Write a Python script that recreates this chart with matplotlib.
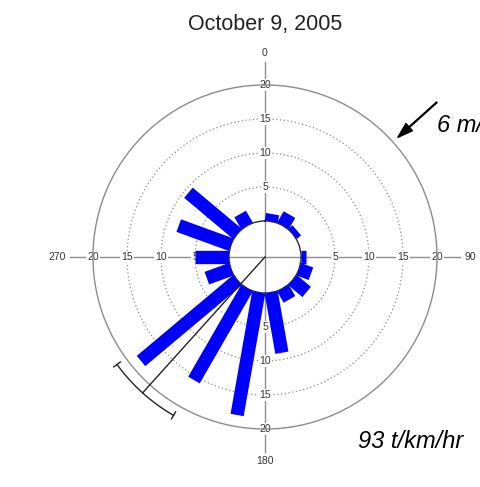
import numpy as np
import matplotlib.pyplot as plt

plt.rcParams['font.family'] = ['Liberation Sans', 'DejaVu Sans']

# ---- data -------------------------------------------------------------
title = "October 9, 2005"
bin_centers = np.arange(10, 360, 20)            # direction bins (deg, clockwise from N)
flux = [1.1, 1.9, 0.8, 0.0, 0.8, 1.9, 2.7, 1.9, 9.0,
        18.3, 15.6, 18.5, 3.8, 5.0, 8.2, 9.4, 2.0, 0.0]
rings = [5, 10, 15, 20]
compass = [0, 90, 180, 270]
mean_dir = 222          # resultant transport direction (deg)
dir_spread = 12         # +/- uncertainty of the direction (deg)
mean_radius = 21.6
wind_dir = 48           # wind direction (deg)
wind_label = "6 m/s"
total_label = "93 t/km/hr"

R_MAX = 20
R_ORIGIN = -5.3
AXIS_END = 23.4

fig = plt.figure(figsize=(4.81, 4.87), dpi=100)
ax = fig.add_axes([0.1933, 0.1191, 0.7152, 0.7064], projection='polar')
ax.set_theta_zero_location('N')
ax.set_theta_direction(-1)
ax.set_rlim(0, R_MAX)
ax.set_rorigin(R_ORIGIN)
ax.set_xticks([])
ax.set_yticks(rings[:-1])
ax.set_yticklabels([])
ax.tick_params(axis='y', length=0)
ax.yaxis.grid(True, linestyle=(0, (1, 2)), color='#8a8a8a', lw=0.9)
ax.spines['polar'].set_color('#8c8c8c')
ax.spines['polar'].set_linewidth(1.0)
ax.spines['inner'].set_color('#2a2a2a')
ax.spines['inner'].set_linewidth(1.0)

# crosshair through the centre
for ang in compass:
    t = np.radians(ang)
    ax.plot([t, t], [R_ORIGIN, AXIS_END], color='#8c8c8c', lw=1.0,
            clip_on=False, zorder=1)

# ring labels along each axis
for ang in compass:
    t = np.radians(ang)
    for v in rings:
        ax.text(t, v, str(v), ha='center', va='center', fontsize=7.5,
                color='#333333', zorder=2, clip_on=False,
                bbox=dict(boxstyle='square,pad=0.1', fc='white', ec='none'))

# compass labels
align = {0: ('center', 'bottom'), 90: ('left', 'center'),
         180: ('center', 'top'), 270: ('right', 'center')}
for ang in compass:
    ha, va = align[ang]
    ax.text(np.radians(ang), 24.0, str(ang), ha=ha, va=va, fontsize=7.5,
            color='#333333', clip_on=False)

# direction bars (constant width)
for d, v in zip(bin_centers, flux):
    if v <= 0:
        continue
    t = np.radians(d)
    ax.plot([t, t], [0, v], color='#0000ff', lw=9.6,
            solid_capstyle='butt', zorder=3)

# resultant direction with its uncertainty arc
tm = np.radians(mean_dir)
ax.plot([tm, tm], [R_ORIGIN, mean_radius], color='#222222', lw=1.0,
        clip_on=False, zorder=4)
arc = np.radians(np.linspace(mean_dir - dir_spread, mean_dir + dir_spread, 60))
ax.plot(arc, np.full_like(arc, mean_radius), color='#222222', lw=1.0,
        clip_on=False, zorder=4)
for a in (mean_dir - dir_spread, mean_dir + dir_spread):
    ta = np.radians(a)
    ax.plot([ta, ta], [mean_radius - 0.6, mean_radius + 0.6], color='#222222',
            lw=1.0, clip_on=False, zorder=4)

# wind arrow
tw = np.radians(wind_dir)
ax.annotate('', xy=(tw, 21.0), xytext=(tw, 28.7), annotation_clip=False,
            arrowprops=dict(facecolor='black', edgecolor='black', width=0.6,
                            headwidth=7, headlength=11, shrink=0))

fig.text(0.9085, 0.729, wind_label, style='italic', fontsize=17,
         ha='left', va='baseline')
fig.text(0.744, 0.0801, total_label, style='italic', fontsize=17,
         ha='left', va='baseline')
fig.text(0.551, 0.9394, title, fontsize=15.5, ha='center', va='baseline',
         color='#222222')

fig.savefig('out.png', dpi=100)
